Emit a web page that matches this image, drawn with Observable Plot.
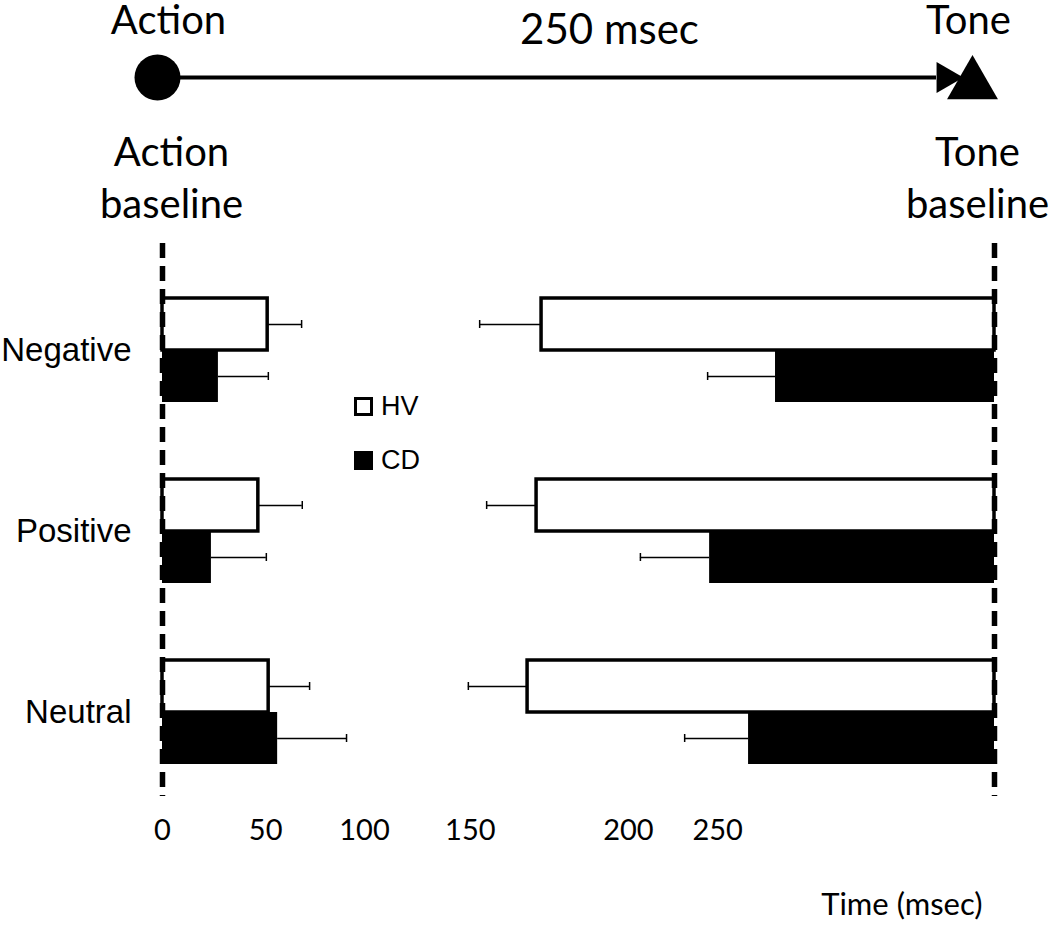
<!DOCTYPE html>
<html>
<head>
<meta charset="utf-8">
<script src="https://cdn.jsdelivr.net/npm/d3@7"></script>
<script src="https://cdn.jsdelivr.net/npm/@observablehq/plot@0.6"></script>
<style>
  body { margin: 0; background: #fff; }
  #wrap { position: relative; width: 1050px; height: 927px; background: #fff; }
  #wrap svg { display: block; }
  .leg { position: absolute; font-family: "Liberation Sans", Arial, sans-serif; font-size: 27px; color: #000; display: flex; align-items: center; }
  .sw { width: 19px; height: 19px; box-sizing: border-box; border: 3px solid #000; margin-right: 8px; }
</style>
</head>
<body>
<div id="wrap"></div>
<script>
// ---- data ----
const categories = ["Negative", "Positive", "Neutral"];
const groups = ["HV", "CD"];
const intervalMs = 250;               // action -> tone interval
// action binding (shift of perceived action time, ms)
const actionShiftHV = [31.6, 28.8, 31.9];
const actionErrHV   = [10.2, 13.2, 12.3];
const actionShiftCD = [16.8, 14.7, 34.6];
const actionErrCD   = [15.0, 16.5, 20.7];
// tone binding (shift of perceived tone time, ms)
const toneShiftHV = [136.1, 137.6, 140.3];
const toneErrHV   = [18.6, 15.0, 17.8];
const toneShiftCD = [65.8, 85.6, 73.9];
const toneErrCD   = [20.4, 20.8, 19.2];
// axis tick labels as printed
const tickValues = [0, 31, 60.7, 92.5, 140, 166.8];
const tickLabels = ["0", "50", "100", "150", "200", "250"];

// ---- build table ----
const rows = [];
categories.forEach((c, i) => {
  rows.push({cat: c, grp: "HV", side: "action", x1: 0, x2: actionShiftHV[i], e1: actionShiftHV[i], e2: actionShiftHV[i] + actionErrHV[i]});
  rows.push({cat: c, grp: "CD", side: "action", x1: 0, x2: actionShiftCD[i], e1: actionShiftCD[i], e2: actionShiftCD[i] + actionErrCD[i]});
  rows.push({cat: c, grp: "HV", side: "tone", x1: intervalMs - toneShiftHV[i], x2: intervalMs, e1: intervalMs - toneShiftHV[i] - toneErrHV[i], e2: intervalMs - toneShiftHV[i]});
  rows.push({cat: c, grp: "CD", side: "tone", x1: intervalMs - toneShiftCD[i], x2: intervalMs, e1: intervalMs - toneShiftCD[i] - toneErrCD[i], e2: intervalMs - toneShiftCD[i]});
});
const hv = rows.filter(d => d.grp === "HV");
const cd = rows.filter(d => d.grp === "CD");
const capX = d => d.side === "action" ? d.e2 : d.e1;

const W = 1050, ML = 162, MR = 56;
const bigFont = "Lato, 'Open Sans', sans-serif";
const armFont = "'Liberation Sans', Arial, sans-serif";

// right-pointing triangle symbol
const triRight = {
  draw(ctx, size) {
    const y = Math.sqrt(size / (Math.sqrt(3) * 3));
    const h = Math.sqrt(3) * y;
    ctx.moveTo(2 * y, 0);
    ctx.lineTo(-y, -h);
    ctx.lineTo(-y, h);
    ctx.closePath();
  }
};

// ---- top timeline diagram ----
const topPlot = Plot.plot({
  width: W, height: 240,
  marginLeft: ML, marginRight: MR, marginTop: 16, marginBottom: 102,
  style: {background: "white", overflow: "visible", fontFamily: bigFont},
  x: {domain: [0, intervalMs], axis: null},
  y: {type: "point", domain: ["event", "timeline", "baseline"], padding: 0, axis: null},
  marks: [
    Plot.ruleY(["timeline"], {x1: () => 0, x2: () => intervalMs, stroke: "black", strokeWidth: 4, insetRight: 58}),
    Plot.dot([0], {x: d => d, y: () => "timeline", r: 23, fill: "black", stroke: "none", dx: -5}),
    Plot.dot([intervalMs], {x: d => d, y: () => "timeline", symbol: triRight, r: 11.5, fill: "black", stroke: "none", dx: -49}),
    Plot.dot([intervalMs], {x: d => d, y: () => "timeline", symbol: "triangle", r: 18.9, fill: "black", stroke: "none", dx: -22, dy: 7}),
    Plot.text(["Action"], {x: () => 0, y: () => "event", text: d => d, fontSize: 40, fontFamily: bigFont, fill: "black", dx: 6, dy: 5}),
    Plot.text(["Tone"], {x: () => intervalMs, y: () => "event", text: d => d, fontSize: 40, fontFamily: bigFont, fill: "black", dx: -26, dy: 5}),
    Plot.text([intervalMs + " msec"], {x: () => intervalMs / 2, y: () => "event", text: d => d, fontSize: 42, fontFamily: bigFont, fill: "black", dx: 31, dy: 14}),
    Plot.text(["Action\nbaseline"], {x: () => 0, y: () => "baseline", text: d => d, fontSize: 40, lineHeight: 1.3, lineAnchor: "top", fontFamily: bigFont, fill: "black", dx: 9, dy: -9}),
    Plot.text(["Tone\nbaseline"], {x: () => intervalMs, y: () => "baseline", text: d => d, fontSize: 40, lineHeight: 1.3, lineAnchor: "top", fontFamily: bigFont, fill: "black", dx: -17, dy: -9})
  ]
});

// ---- bar chart ----
const bw = 104, half = bw / 2;
const chart = Plot.plot({
  width: W, height: 687,
  marginLeft: ML, marginRight: MR, marginTop: 3, marginBottom: 108,
  style: {background: "white", overflow: "visible", fontFamily: bigFont},
  x: {domain: [0, intervalMs], axis: null},
  y: {domain: categories, axis: null, paddingInner: 0.427, paddingOuter: 0.3},
  marks: [
    Plot.barX(hv, {y: "cat", x1: "x1", x2: "x2", fill: "white", stroke: "black", strokeWidth: 3.5, insetBottom: half}),
    Plot.barX(cd, {y: "cat", x1: "x1", x2: "x2", fill: "black", stroke: "none", insetTop: half}),
    Plot.ruleY(hv, {y: "cat", x1: "e1", x2: "e2", stroke: "black", strokeWidth: 1.5, dy: -half / 2}),
    Plot.ruleY(cd, {y: "cat", x1: "e1", x2: "e2", stroke: "black", strokeWidth: 1.5, dy: half / 2}),
    Plot.tickX(hv, {y: "cat", x: capX, stroke: "black", strokeWidth: 1.5, insetTop: half / 2 - 4, insetBottom: bw - half / 2 - 4}),
    Plot.tickX(cd, {y: "cat", x: capX, stroke: "black", strokeWidth: 1.5, insetTop: bw - half / 2 - 4, insetBottom: half / 2 - 4}),
    Plot.ruleX([0, intervalMs], {x: d => d, stroke: "black", strokeWidth: 5.5, strokeDasharray: "15,8", insetBottom: 23}),
    Plot.text(categories, {y: d => d, text: d => d, frameAnchor: "left", textAnchor: "end", dx: -31, fontSize: 33, fontFamily: armFont, fill: "black"}),
    Plot.text(tickValues, {x: d => d, text: (d, i) => tickLabels[i], frameAnchor: "bottom", dy: 20, fontSize: 29, fontFamily: bigFont, fill: "black"}),
    Plot.text(["Time (msec)"], {frameAnchor: "bottom-right", text: d => d, textAnchor: "end", dx: -12, dy: 95, fontSize: 31, fontFamily: bigFont, fill: "black"})
  ]
});

const wrap = document.getElementById("wrap");
wrap.appendChild(topPlot);
wrap.appendChild(chart);

// legend
groups.forEach((g, i) => {
  const d = document.createElement("div");
  d.className = "leg";
  d.style.left = "354px";
  d.style.top = (i === 0 ? 389 : 443) + "px";
  d.style.height = "34px";
  const sw = document.createElement("span");
  sw.className = "sw";
  sw.style.background = i === 0 ? "white" : "black";
  d.appendChild(sw);
  d.appendChild(document.createTextNode(g));
  wrap.appendChild(d);
});
</script>
</body>
</html>
